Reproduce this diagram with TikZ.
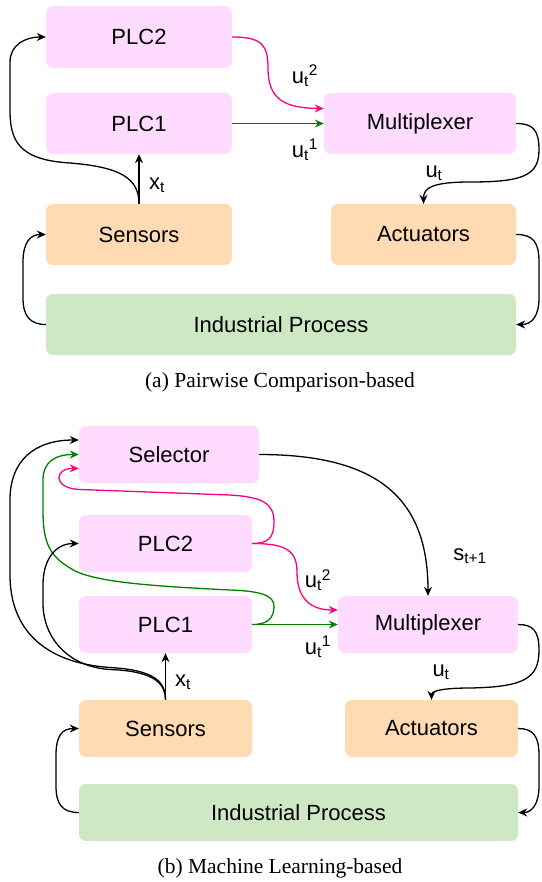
\documentclass[tikz,border=0pt]{standalone}
\usepackage{fontspec}
\setmainfont{Liberation Serif}
\setsansfont{Liberation Sans}
\usetikzlibrary{arrows.meta}
\definecolor{plcpink}{HTML}{FFDBFF}
\definecolor{sensorange}{HTML}{FFDAB3}
\definecolor{procgreen}{HTML}{CFE8C4}
\definecolor{linkpink}{HTML}{FF0080}
\definecolor{linkgreen}{HTML}{007F00}
\begin{document}
\begin{tikzpicture}[x=1pt,y=-1pt,
  box/.style={rounded corners=7pt, inner sep=0pt, font=\sffamily\fontsize{22}{26}\selectfont, text=black},
  pinkbox/.style={box, fill=plcpink},
  orangebox/.style={box, fill=sensorange},
  greenbox/.style={box, fill=procgreen},
  conn/.style={line width=1.3pt, -{Stealth[length=9pt,width=8pt,inset=3pt]}},
  pinkconn/.style={conn, draw=linkpink, -{Stealth[length=9pt,width=8pt,inset=3pt,fill=linkpink]}},
  greenconn/.style={conn, draw=linkgreen, -{Stealth[length=9pt,width=8pt,inset=3pt,fill=linkgreen]}},
  lbl/.style={font=\sffamily\fontsize{22}{26}\selectfont, inner sep=0pt},
  captext/.style={font=\rmfamily\fontsize{21.5}{26}\selectfont, inner sep=0pt}]
\useasboundingbox (0,0) rectangle (541,882);

% ---------- (a) ----------
\node[pinkbox, minimum width=186pt, minimum height=62pt] (plc2a) at (139,37) {PLC2};
\node[pinkbox, minimum width=186pt, minimum height=61pt] (plc1a) at (139,123.5) {PLC1};
\node[pinkbox, minimum width=192pt, minimum height=61pt] (muxa) at (420,123.5) {Multiplexer};
\node[orangebox, minimum width=186pt, minimum height=61pt] (sensa) at (139,234.5) {Sensors};
\node[orangebox, minimum width=185pt, minimum height=61pt] (acta) at (423.5,234.5) {Actuators};
\node[greenbox, minimum width=470pt, minimum height=61pt] (inda) at (281,324.5) {Industrial Process};
\node[captext] (capa) at (280,382) {(a) Pairwise Comparison-based};

\draw[pinkconn] (plc2a.east) .. controls (262,37) and (268,45) .. (268,68)
  .. controls (268,100) and (285,108) .. ([yshift=15pt]muxa.west);
\draw[greenconn] (plc1a.east) -- (muxa.west);
\draw[conn] (sensa.north) -- (plc1a.south);
\draw[conn] (sensa.north) .. controls (139,178) and (120,167) .. (70,163)
  .. controls (18,160) and (10,140) .. (10,110) -- (10,62)
  .. controls (10,45) and (25,37) .. (plc2a.west);
\draw[conn] (muxa.east) .. controls (533,123.5) and (539,130) .. (539,150)
  .. controls (539,176) and (522,182) .. (470,182)
  .. controls (432,182) and (423.5,188) .. (acta.north);
\draw[conn] (acta.east) .. controls (533,234.5) and (539,242) .. (539,262) -- (539,298)
  .. controls (539,316) and (532,324.5) .. (inda.east);
\draw[conn] (inda.west) .. controls (30,324.5) and (23,316) .. (23,298) -- (23,262)
  .. controls (23,243) and (30,234.5) .. (sensa.west);

\node[lbl] (u2a) at (305,76) {u\textsubscript{t}\textsuperscript{2}};
\node[lbl] (u1a) at (305,150) {u\textsubscript{t}\textsuperscript{1}};
\node[lbl] (xta) at (157,185) {x\textsubscript{t}};
\node[lbl] (uta) at (434,173) {u\textsubscript{t}};

% ---------- (b) ----------
\node[pinkbox, minimum width=180pt, minimum height=57pt] (selb) at (169,454.5) {Selector};
\node[pinkbox, minimum width=173pt, minimum height=57pt] (plc2b) at (165.5,543.5) {PLC2};
\node[pinkbox, minimum width=173pt, minimum height=57pt] (plc1b) at (165.5,624.5) {PLC1};
\node[pinkbox, minimum width=180pt, minimum height=57pt] (muxb) at (428,624.5) {Multiplexer};
\node[orangebox, minimum width=173pt, minimum height=57pt] (sensb) at (165.5,728.5) {Sensors};
\node[orangebox, minimum width=173pt, minimum height=57pt] (actb) at (431.5,728.5) {Actuators};
\node[greenbox, minimum width=439pt, minimum height=57pt] (indb) at (298.5,812.5) {Industrial Process};
\node[captext] (capb) at (280,868) {(b) Machine Learning-based};

\draw[conn] (selb.east) .. controls (380,454.5) and (428,500) .. (muxb.north);
\draw[pinkconn] (plc2b.east) .. controls (285,543.5) and (297,550) .. (297,572)
  .. controls (297,600) and (312,610) .. ([yshift=14.5pt]muxb.west);
\draw[pinkconn] (plc2b.east) .. controls (268,543.5) and (274,538) .. (274,522)
  .. controls (274,503) and (262,497) .. (230,495) -- (80,489.5)
  .. controls (52,488.5) and (54,468) .. ([yshift=-14pt]selb.west);
\draw[greenconn] (plc1b.east) -- (muxb.west);
\draw[greenconn] (plc1b.east) .. controls (268,624.5) and (274,618) .. (274,606)
  .. controls (274,596) and (262,591) .. (230,590)
  .. controls (150,586) and (90,582) .. (70,568)
  .. controls (48,555) and (43,540) .. (43,510) -- (43,480)
  .. controls (43,462) and (55,454.5) .. (selb.west);
\draw[conn] (sensb.north) -- (plc1b.south);
\draw[conn] (sensb.north) .. controls (165.5,680) and (152,670) .. (110,667.5)
  .. controls (45,663) and (10,630) .. (10,575) -- (10,500)
  .. controls (10,460) and (35,440) .. ([yshift=14.5pt]selb.west);
\draw[conn] (sensb.north) .. controls (165.5,681) and (150,671) .. (110,669.5)
  .. controls (70,667) and (44,640) .. (43,605) -- (43,585)
  .. controls (43,560) and (55,543.5) .. (plc2b.west);
\draw[conn] (muxb.east) .. controls (533,624.5) and (539,631) .. (539,650)
  .. controls (539,678) and (525,687) .. (470,688)
  .. controls (438,688) and (431.5,692) .. (actb.north);
\draw[conn] (actb.east) .. controls (533,728.5) and (539,736) .. (539,755) -- (539,786)
  .. controls (539,804) and (532,812.5) .. (indb.east);
\draw[conn] (indb.west) .. controls (62,812.5) and (56,804) .. (56,786) -- (56,755)
  .. controls (56,736) and (62,728.5) .. (sensb.west);

\node[lbl] (u2b) at (318,580) {u\textsubscript{t}\textsuperscript{2}};
\node[lbl] (u1b) at (318,647) {u\textsubscript{t}\textsuperscript{1}};
\node[lbl] (xtb) at (183,682) {x\textsubscript{t}};
\node[lbl] (utb) at (441,672) {u\textsubscript{t}};
\node[lbl] (stb) at (470,556) {s\textsubscript{t+1}};
\end{tikzpicture}
\end{document}
